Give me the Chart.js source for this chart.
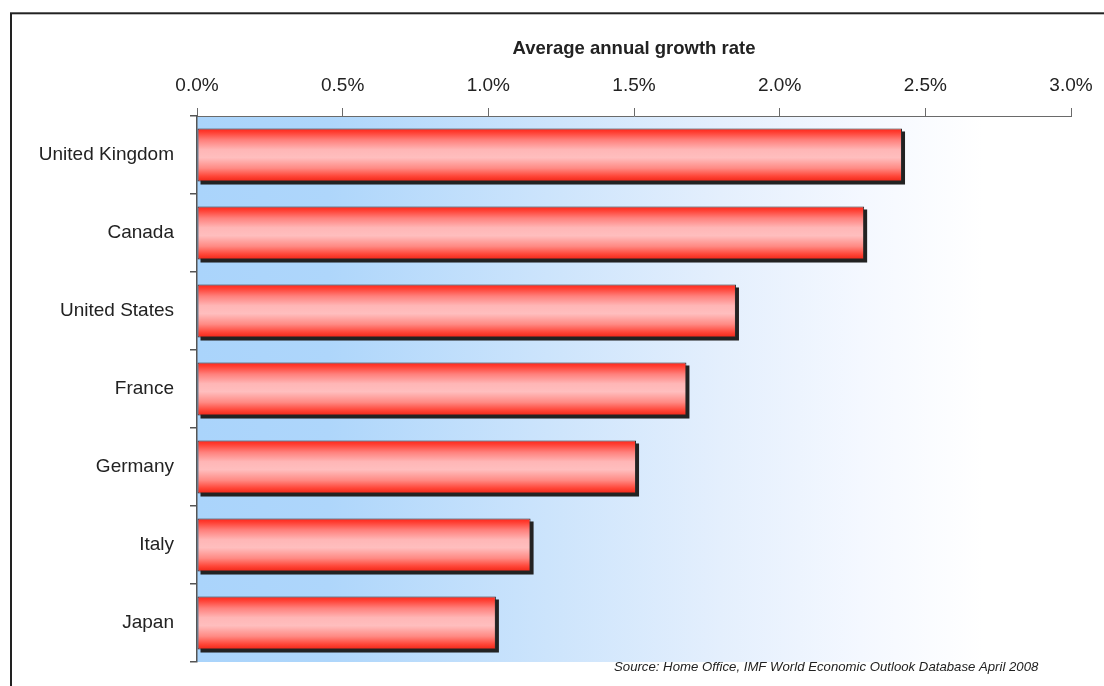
<!DOCTYPE html>
<html>
<head>
<meta charset="utf-8">
<script src="https://cdn.jsdelivr.net/npm/chart.js@4"></script>
<style>
  html, body { margin: 0; padding: 0; background: #fff; }
  #wrap { width: 1104px; height: 686px; position: relative; }
</style>
</head>
<body>
<div id="wrap"><canvas id="c" width="1104" height="686"></canvas></div>
<script>
const categories = ["United Kingdom", "Canada", "United States", "France", "Germany", "Italy", "Japan"];
const growthRates = [2.42, 2.29, 1.85, 1.68, 1.507, 1.145, 1.026];
const axisTitle = "Average annual growth rate";
const sourceNote = "Source: Home Office, IMF World Economic Outlook Database April 2008";
const xMin = 0, xMax = 3, xStep = 0.5;

const FONT = "'Liberation Sans', Arial, sans-serif";
const BAR_FRACTION = 0.68;

function barGradient(context) {
  const chart = context.chart;
  const y = chart.scales && chart.scales.y;
  if (!chart.chartArea || !y || context.dataIndex === undefined) return '#ff6b60';
  const band = (y.bottom - y.top) / categories.length;
  const h = band * BAR_FRACTION;
  const c = y.getPixelForValue(context.dataIndex);
  const g = chart.ctx.createLinearGradient(0, c - h / 2, 0, c + h / 2);
  g.addColorStop(0.00, 'rgb(255,36,24)');
  g.addColorStop(0.08, 'rgb(255,66,54)');
  g.addColorStop(0.22, 'rgb(255,128,124)');
  g.addColorStop(0.40, 'rgb(255,182,182)');
  g.addColorStop(0.55, 'rgb(255,190,190)');
  g.addColorStop(0.75, 'rgb(255,138,132)');
  g.addColorStop(0.90, 'rgb(255,70,56)');
  g.addColorStop(1.00, 'rgb(240,36,22)');
  return g;
}

const decorPlugin = {
  id: 'decor',
  beforeDraw(chart) {
    const {ctx, chartArea: a} = chart;
    ctx.save();
    ctx.fillStyle = '#fff';
    ctx.fillRect(0, 0, chart.width, chart.height);
    const g = ctx.createLinearGradient(a.left, 0, a.right, 0);
    g.addColorStop(0.00, 'rgb(170,212,251)');
    g.addColorStop(0.15, 'rgb(174,214,251)');
    g.addColorStop(0.40, 'rgb(204,228,252)');
    g.addColorStop(0.60, 'rgb(228,239,253)');
    g.addColorStop(0.76, 'rgb(244,248,255)');
    g.addColorStop(0.90, 'rgb(255,255,255)');
    g.addColorStop(1.00, 'rgb(255,255,255)');
    ctx.fillStyle = g;
    ctx.fillRect(a.left, a.top, a.right - a.left, a.bottom - a.top);
    // outer frame
    ctx.strokeStyle = '#222';
    ctx.lineWidth = 2;
    ctx.strokeRect(11, 13.3, 1200, 800);
    ctx.restore();
  },
  beforeDatasetsDraw(chart) {
    // drop shadow under each bar (right and bottom), from the bar elements' own geometry
    const ctx = chart.ctx;
    const meta = chart.getDatasetMeta(0);
    ctx.save();
    ctx.fillStyle = '#222';
    meta.data.forEach(bar => {
      const p = bar.getProps(['x', 'y', 'base', 'height'], true);
      const left = Math.min(p.x, p.base), right = Math.max(p.x, p.base);
      const top = p.y - p.height / 2;
      ctx.fillRect(left + 3, top + 3, right - left, p.height);
    });
    ctx.restore();
  },
  afterDraw(chart) {
    const ctx = chart.ctx;
    ctx.save();
    ctx.fillStyle = '#222';
    ctx.font = "italic 13.2px " + FONT;
    ctx.textBaseline = 'alphabetic';
    ctx.textAlign = 'left';
    ctx.fillText(sourceNote, 614, 671, 426);
    ctx.restore();
  }
};

new Chart(document.getElementById('c'), {
  type: 'bar',
  data: {
    labels: categories,
    datasets: [{
      data: growthRates,
      backgroundColor: barGradient,
      borderColor: '#2a2a2a',
      borderWidth: 1,
      borderSkipped: false,
      categoryPercentage: 1,
      barPercentage: BAR_FRACTION
    }]
  },
  options: {
    indexAxis: 'y',
    responsive: false,
    animation: false,
    events: [],
    layout: { padding: { left: 0, right: 33, top: 0, bottom: 24 } },
    plugins: { legend: { display: false }, tooltip: { enabled: false }, title: { display: false } },
    scales: {
      x: {
        position: 'top',
        min: xMin, max: xMax,
        afterFit(scale) { scale.height = 116; },
        ticks: {
          stepSize: xStep,
          padding: 11,
          color: '#222',
          font: { family: FONT, size: 19 },
          callback: v => v.toFixed(1) + '%'
        },
        grid: { drawOnChartArea: false, tickLength: 8, color: '#6a6a6a', lineWidth: 1 },
        border: { display: true, color: '#6a6a6a', width: 1 },
        title: {
          display: true,
          text: axisTitle,
          color: '#222',
          font: { family: FONT, size: 18.5, weight: 'bold' },
          padding: { top: 38, bottom: 0 }
        }
      },
      y: {
        afterFit(scale) {
          scale.width = 197;
          scale.paddingTop = 0;
          scale.paddingBottom = 0;
        },
        ticks: {
          padding: 16,
          color: '#222',
          font: { family: FONT, size: 19 }
        },
        grid: { drawOnChartArea: false, offset: true, tickLength: 7, color: '#555', lineWidth: 1.5 },
        border: { display: true, color: '#555', width: 1.5 }
      }
    }
  },
  plugins: [decorPlugin]
});
</script>
</body>
</html>
